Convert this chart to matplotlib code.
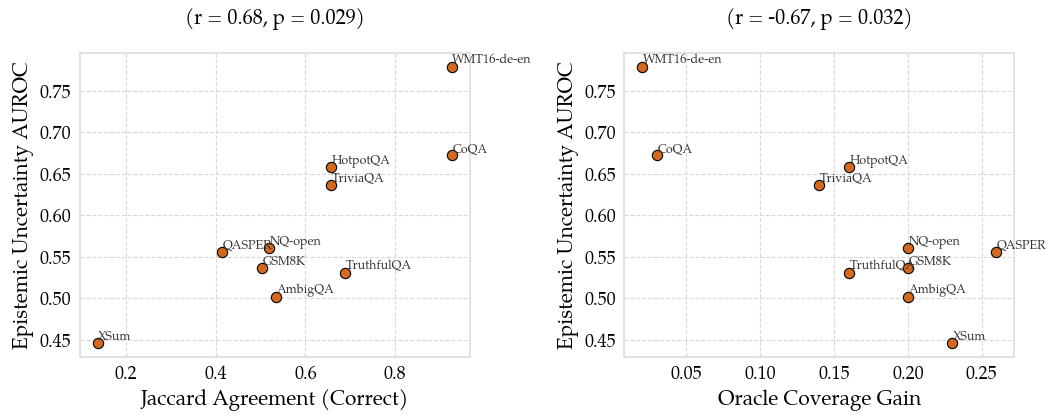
import matplotlib
matplotlib.use('Agg')
import matplotlib.pyplot as plt

datasets = ['WMT16-de-en', 'CoQA', 'HotpotQA', 'TriviaQA', 'QASPER',
            'NQ-open', 'GSM8K', 'TruthfulQA', 'AmbigQA', 'XSum']
auroc = [0.779, 0.672, 0.658, 0.637, 0.556, 0.560, 0.536, 0.531, 0.502, 0.446]
jaccard = [0.926, 0.927, 0.658, 0.658, 0.413, 0.518, 0.503, 0.688, 0.534, 0.136]
oracle_gain = [0.02, 0.03, 0.16, 0.14, 0.26, 0.20, 0.20, 0.16, 0.20, 0.23]
titles = ['(r = 0.68, p = 0.029)', '(r = -0.67, p = 0.032)']
xlabels = ['Jaccard Agreement (Correct)', 'Oracle Coverage Gain']

plt.rcParams['font.family'] = ['Palatino Linotype', 'TeX Gyre Pagella', 'URW Palladio L',
                               'Liberation Serif', 'DejaVu Serif']

fig, axes = plt.subplots(1, 2, figsize=(10.51, 4.16), dpi=100)
fig.subplots_adjust(left=0.076, right=0.965, top=0.873, bottom=0.142, wspace=0.397)

for ax, xs, title, xlabel in zip(axes, [jaccard, oracle_gain], titles, xlabels):
    ax.scatter(xs, auroc, s=55, color='#d2691e', edgecolor='black', linewidth=0.8, zorder=3)
    for name, x, y in zip(datasets, xs, auroc):
        ax.annotate(name, (x, y), xytext=(0.5, -0.5), textcoords='offset points',
                    fontsize=9, color='#333333', ha='left', va='bottom', zorder=4)
    ax.set_title(title, fontsize=14.5, pad=21)
    ax.set_xlabel(xlabel, fontsize=15)
    ax.set_ylabel('Epistemic Uncertainty AUROC', fontsize=15)
    ax.tick_params(labelsize=13, length=0, pad=6)
    ax.grid(True, linestyle='--', color='#d9d9d9', linewidth=0.8)
    ax.set_axisbelow(True)
    for sp in ax.spines.values():
        sp.set_color('#dddddd')
        sp.set_linewidth(1.2)

axes[0].set_xticks([0.2, 0.4, 0.6, 0.8])
axes[1].set_xticks([0.05, 0.10, 0.15, 0.20, 0.25])
axes[1].set_xticklabels(['0.05', '0.10', '0.15', '0.20', '0.25'])
for ax in axes:
    ax.set_yticks([0.45, 0.50, 0.55, 0.60, 0.65, 0.70, 0.75])
    ax.set_yticklabels(['0.45', '0.50', '0.55', '0.60', '0.65', '0.70', '0.75'])

fig.savefig('out.png', dpi=100)
